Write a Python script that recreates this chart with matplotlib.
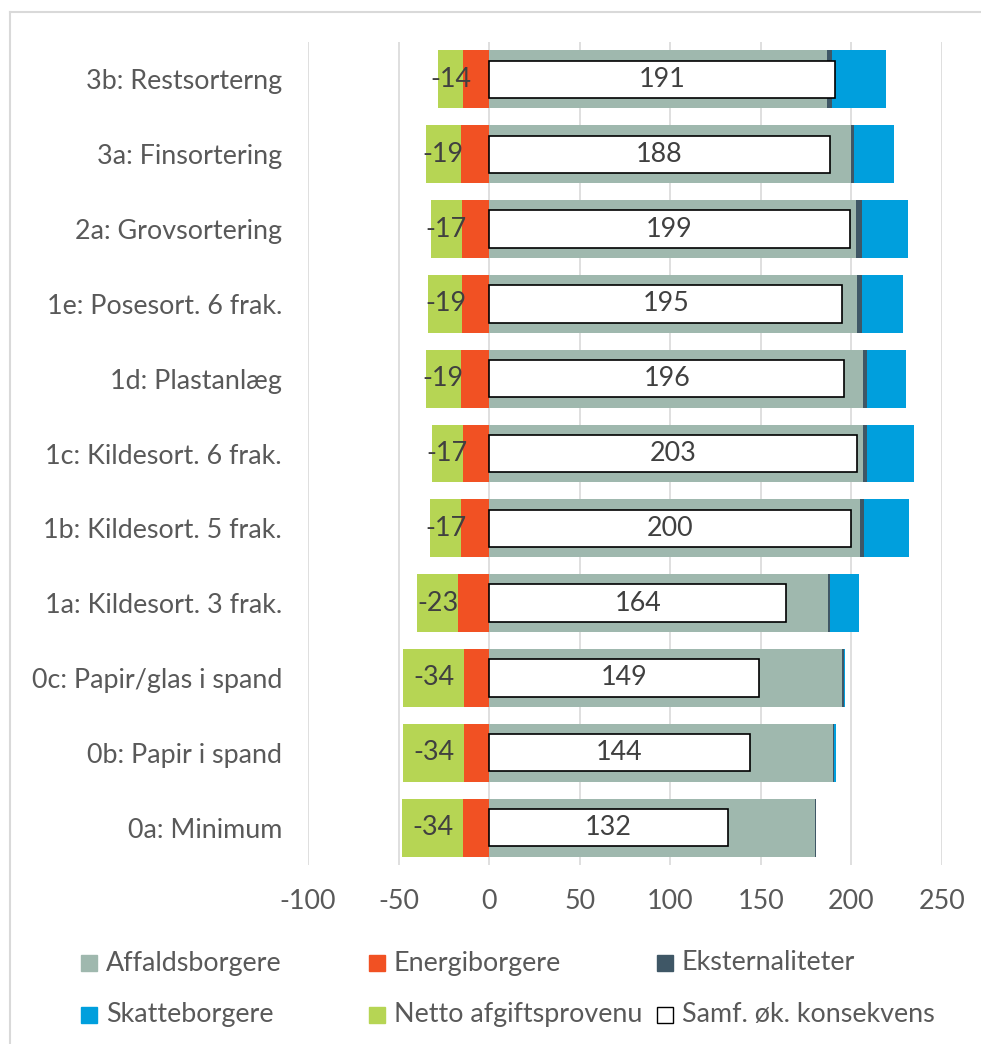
import matplotlib
matplotlib.use("Agg")
import matplotlib.pyplot as plt
from matplotlib.patches import Rectangle
from matplotlib.lines import Line2D
import numpy as np

# ---------------- data ----------------
categories = ["3b: Restsorterng", "3a: Finsortering", "2a: Grovsortering",
              "1e: Posesort. 6 frak.", "1d: Plastanlæg", "1c: Kildesort. 6 frak.",
              "1b: Kildesort. 5 frak.", "1a: Kildesort. 3 frak.",
              "0c: Papir/glas i spand", "0b: Papir i spand", "0a: Minimum"]
affaldsborgere = [186.6, 199.5, 202.7, 202.9, 206.6, 206.6, 204.7, 186.8, 195.0, 190.0, 179.8]
energiborgere = [-14.3, -15.8, -15.2, -14.8, -15.8, -14.6, -15.3, -17.1, -13.7, -13.7, -14.3]
eksternaliteter = [2.5, 1.9, 2.9, 2.7, 2.1, 2.1, 2.4, 1.5, 0.8, 0.6, 0.4]
skatteborgere = [30.0, 21.9, 25.5, 22.8, 21.6, 25.8, 24.7, 16.0, 0.8, 0.9, 0.0]
netto_afgift = [-14.2, -19.0, -16.7, -18.7, -19.0, -16.8, -17.4, -22.8, -33.8, -33.8, -34.0]
samf_konsekvens = [191, 188, 199, 195, 196, 203, 200, 164, 149, 144, 132]
xticks = [-100, -50, 0, 50, 100, 150, 200, 250]

series_names = ["Affaldsborgere", "Energiborgere", "Eksternaliteter",
                "Skatteborgere", "Netto afgiftsprovenu", "Samf. øk. konsekvens"]
colors = {"Affaldsborgere": "#9FB8AE", "Energiborgere": "#F15123",
          "Eksternaliteter": "#3F5766", "Skatteborgere": "#009FDD",
          "Netto afgiftsprovenu": "#B6D554", "Samf. øk. konsekvens": "#FFFFFF"}

# ---------------- figure ----------------
W, H, DPI = 981, 1044, 100
plt.rcParams['font.family'] = ['Lato', 'DejaVu Sans']
fig = plt.figure(figsize=(W / DPI, H / DPI), dpi=DPI)
fig.patch.set_facecolor("white")

def fx(x):
    return x / W

def fy(y):
    return 1 - y / H

# font size fitted so the category label width matches reference (~196 px)
renderer = fig.canvas.get_renderer()
_t = fig.text(0, 0, "3b: Restsorterng", fontsize=10)
_w = _t.get_window_extent(renderer).width
_t.remove()
FS = 10 * 196 / _w

TXT = "#595959"
VAL = "#404040"

ax_left, ax_right, ax_top, ax_bot = 308, 942, 42, 865
ax = fig.add_axes([fx(ax_left), fy(ax_bot), (ax_right - ax_left) / W, (ax_bot - ax_top) / H])

n = len(categories)
y = np.arange(n)
aff = np.array(affaldsborgere)
ene = np.array(energiborgere)
eks = np.array(eksternaliteter)
ska = np.array(skatteborgere)
net = np.array(netto_afgift)
sam = np.array(samf_konsekvens)

BH = 0.775
ax.barh(y, aff, height=BH, color=colors["Affaldsborgere"], zorder=2)
ax.barh(y, eks, left=aff, height=BH, color=colors["Eksternaliteter"], zorder=2)
ax.barh(y, ska, left=aff + eks, height=BH, color=colors["Skatteborgere"], zorder=2)
ax.barh(y, ene, height=BH, color=colors["Energiborgere"], zorder=2)
ax.barh(y, net, left=ene, height=BH, color=colors["Netto afgiftsprovenu"], zorder=2)
ax.barh(y, sam, height=0.5, color="white", edgecolor="black", linewidth=1.2, zorder=3)

for i in range(n):
    ax.text(sam[i] / 2, y[i], f"{sam[i]:.0f}", ha="center", va="center",
            fontsize=FS, color=VAL, zorder=4)
    ax.text(ene[i] + net[i] / 2, y[i], f"{net[i]:.0f}", ha="center", va="center",
            fontsize=FS, color=VAL, zorder=4)

ax.set_xlim(-100, 250)
ax.set_ylim(n - 0.5, -0.5)
ax.set_xticks(xticks)
ax.set_xticklabels([str(v) for v in xticks])
ax.set_yticks(y)
ax.set_yticklabels(categories)
ax.tick_params(axis="y", length=0, pad=26 * 72 / DPI, labelsize=FS, labelcolor=TXT)
ax.tick_params(axis="x", length=0, pad=24 * 72 / DPI, labelsize=FS, labelcolor=TXT)
ax.grid(axis="x", color="#D9D9D9", linewidth=1.2, zorder=0)
ax.set_axisbelow(True)
for s in ax.spines.values():
    s.set_visible(False)

# ---------------- legend (manual, Excel-like layout) ----------------
leg_cols = [81, 369, 657]
leg_rows = [963, 1014.5]
legend_layout = [["Affaldsborgere", "Energiborgere", "Eksternaliteter"],
                 ["Skatteborgere", "Netto afgiftsprovenu", "Samf. øk. konsekvens"]]
SQ = 16
for r, row in enumerate(legend_layout):
    for c, name in enumerate(row):
        x0 = leg_cols[c]
        yc = leg_rows[r]
        ec = "black" if name == "Samf. øk. konsekvens" else colors[name]
        fig.add_artist(Rectangle((fx(x0), fy(yc + SQ / 2)), SQ / W, SQ / H,
                                 facecolor=colors[name], edgecolor=ec, linewidth=1.0,
                                 transform=fig.transFigure))
        fig.text(fx(x0 + SQ + 9), fy(yc), name, ha="left", va="center",
                 fontsize=FS, color=TXT)

# chart border (top and left visible)
fig.add_artist(Line2D([fx(10), fx(W + 5)], [fy(12), fy(12)], color="#D9D9D9",
                      linewidth=1.5, transform=fig.transFigure))
fig.add_artist(Line2D([fx(10), fx(10)], [fy(12), fy(H + 5)], color="#D9D9D9",
                      linewidth=1.5, transform=fig.transFigure))

fig.savefig("out.png", dpi=DPI, facecolor="white")
